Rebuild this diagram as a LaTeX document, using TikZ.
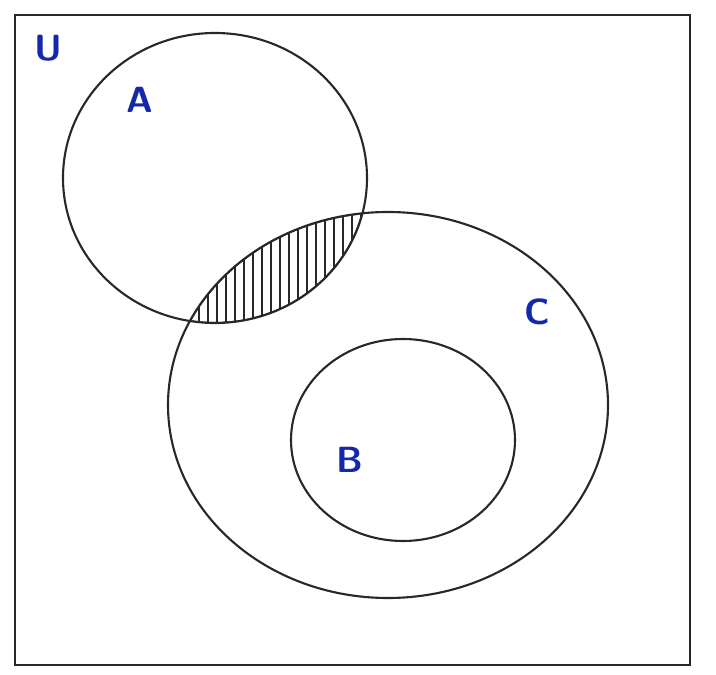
\documentclass[tikz,border=0pt]{standalone}
\usepackage{tikz}
\definecolor{InkBlue}{RGB}{20,40,170}
\definecolor{Pencil}{RGB}{40,40,40}

\begin{document}
\begin{tikzpicture}[x=0.02cm, y=-0.02cm,
  every node/.style={font=\sffamily\bfseries\huge, text=InkBlue},
  set/.style={draw=Pencil, line width=1.2pt},
  hatch/.style={draw=Pencil, line width=0.8pt}]
\useasboundingbox (0,0) rectangle (716,675);

% universe box
\draw[set] (15,15) rectangle (690,665);

% sets
\draw[set] (215,178) ellipse (152 and 145);
\draw[set] (388,405) ellipse (220 and 193);
\draw[set] (403,440) ellipse (112 and 101);

% shaded region: A and C
\begin{scope}
  \clip (215,178) ellipse (152 and 145);
  \clip (388,405) ellipse (220 and 193);
  \foreach \x in {190,199,...,370}
    \draw[hatch] (\x,200) -- (\x,330);
  \draw[set] (215,178) ellipse (152 and 145);
  \draw[set] (388,405) ellipse (220 and 193);
\end{scope}

% labels
\node (lblU) at (48,48) {U};
\node (lblA) at (140,100) {A};
\node (lblC) at (537,312) {C};
\node (lblB) at (350,460) {B};
\end{tikzpicture}
\end{document}
